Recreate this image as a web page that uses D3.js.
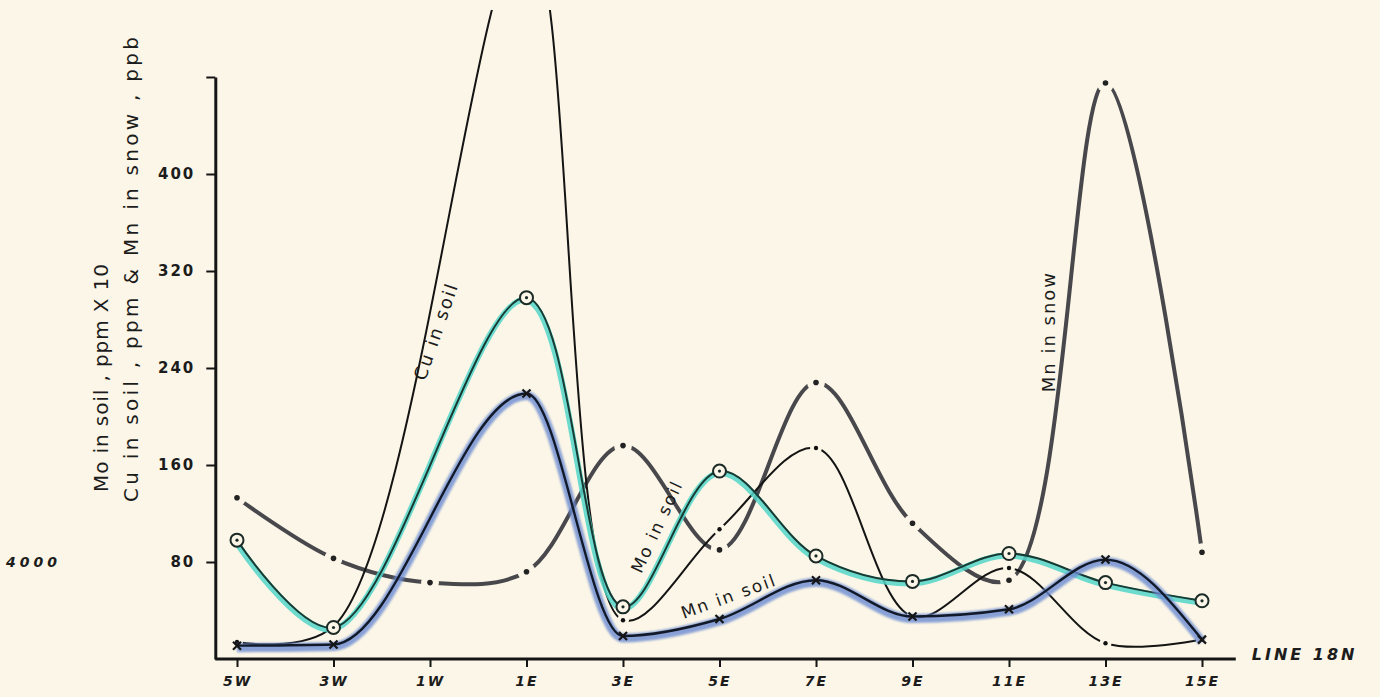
<!DOCTYPE html>
<html>
<head>
<meta charset="utf-8">
<script src="https://cdn.jsdelivr.net/npm/d3@7"></script>
<style>
  html, body { margin: 0; padding: 0; background: #fbf6e7; }
  svg { display: block; }
  text { font-family: "DejaVu Sans", sans-serif; fill: #1c1c1c; }
</style>
</head>
<body>
<svg id="chart"></svg>
<script>
// stations along LINE 18N (W negative, E positive)
const stations = [-5, -3, 1, 3, 5, 7, 9, 11, 13, 15];
const moSoil = [98, 26, 298, 43, 155, 85, 64, 87, 63, 48];   // ppm x 10
const mnSoil = [11, 12, 219, 19, 33, 65, 35, 41, 82, 16];
const cuSoil = [14, 27, 600, 32, 107, 174, 35, 75, 13, 16];  // 1E runs off the sheet
const snowStations = [-5, -3, -1, 1, 3, 5, 7, 9, 11, 13, 15];
const mnSnow = [133, 83, 63, 72, 176, 90, 228, 112, 65, 475, 88];

const xTicks = [-5, -3, -1, 1, 3, 5, 7, 9, 11, 13, 15];
const xTickLabels = ['5W', '3W', '1W', '1E', '3E', '5E', '7E', '9E', '11E', '13E', '15E'];
const yTicks = [80, 160, 240, 320, 400, 480];

const W = 1380, H = 697;
const BG = '#fbf6e7';

const svg = d3.select('#chart').attr('width', W).attr('height', H);

// scales
const x = d3.scaleLinear().domain([-5, 15]).range([237, 1202]);
const y = d3.scaleLinear().domain([0, 480]).range([659, 77]);

// clip: Cu peak leaves the top of the sheet
svg.append('defs').append('clipPath').attr('id', 'sheet')
  .append('rect').attr('x', 0).attr('y', 10).attr('width', W).attr('height', H);
svg.select('defs').append('filter').attr('id', 'crayon')
  .append('feGaussianBlur').attr('stdDeviation', 1.2);

// axes
const yAxis = svg.append('g').attr('transform', `translate(${x(-5.45)},0)`)
  .call(d3.axisLeft(y).tickValues(yTicks).tickSize(9).tickSizeOuter(0).tickPadding(11)
    .tickFormat(d => d === 480 ? '' : d));
yAxis.select('.domain').attr('stroke', '#151515').attr('stroke-width', 3);
yAxis.selectAll('.tick line').attr('stroke', '#151515').attr('stroke-width', 2);
yAxis.selectAll('.tick text').attr('font-size', 15).attr('font-weight', 'bold')
  .attr('letter-spacing', 2).attr('fill', '#1c1c1c');

const xAxis = svg.append('g').attr('transform', `translate(0,${y(0)})`)
  .call(d3.axisBottom(x).tickValues(xTicks).tickSize(8).tickSizeOuter(0).tickPadding(9)
    .tickFormat((d, i) => xTickLabels[i]));
xAxis.select('.domain').remove();
xAxis.append('line').attr('x1', x(-5.45)).attr('x2', x(15.7))
  .attr('stroke', '#151515').attr('stroke-width', 3);
xAxis.selectAll('.tick line').attr('stroke', '#151515').attr('stroke-width', 2);
xAxis.selectAll('.tick text').attr('font-size', 14).attr('font-style', 'italic')
  .attr('font-weight', 'bold').attr('letter-spacing', 2).attr('fill', '#1c1c1c');

// line generators
const line = d3.line().curve(d3.curveCatmullRom.alpha(0.5))
  .x(d => x(d[0])).y(d => y(d[1]));
const smooth = d3.line().curve(d3.curveMonotoneX)
  .x(d => x(d[0])).y(d => y(d[1]));
const pts = (xs, vs) => xs.map((s, i) => [s, vs[i]]);

const plot = svg.append('g').attr('clip-path', 'url(#sheet)');

// Mn in snow: heavy grey dash-dot
plot.append('path').attr('d', line(pts(snowStations, mnSnow)))
  .attr('fill', 'none').attr('stroke', '#48484c').attr('stroke-width', 4)
  .attr('stroke-linecap', 'round');
plot.selectAll('.snowHalo').data(pts(snowStations, mnSnow)).enter().append('circle')
  .attr('cx', d => x(d[0])).attr('cy', d => y(d[1])).attr('r', 9).attr('fill', BG);
plot.selectAll('.snowDot').data(pts(snowStations, mnSnow)).enter().append('circle')
  .attr('cx', d => x(d[0])).attr('cy', d => y(d[1])).attr('r', 2.8).attr('fill', '#222');

// Cu in soil: thin black line
plot.append('path').attr('d', line(pts(stations, cuSoil)))
  .attr('fill', 'none').attr('stroke', '#141414').attr('stroke-width', 2);
const cuPts = pts(stations, cuSoil).filter(d => d[1] < 480);
plot.selectAll('.cuHalo').data(cuPts).enter().append('circle')
  .attr('cx', d => x(d[0])).attr('cy', d => y(d[1])).attr('r', 6).attr('fill', BG);
plot.selectAll('.cuDot').data(cuPts).enter().append('circle')
  .attr('cx', d => x(d[0])).attr('cy', d => y(d[1])).attr('r', 2.2).attr('fill', '#111');

// Mo in soil: teal crayon under dark line
plot.append('path').attr('d', line(pts(stations, moSoil)))
  .attr('fill', 'none').attr('stroke', '#52d6c9').attr('stroke-width', 6)
  .attr('opacity', 0.85).attr('transform', 'translate(-1,2)');
plot.append('path').attr('d', line(pts(stations, moSoil)))
  .attr('fill', 'none').attr('stroke', '#173a33').attr('stroke-width', 2);

// Mn in soil: blue crayon under black line
plot.append('path').attr('d', smooth(pts(stations, mnSoil)))
  .attr('fill', 'none').attr('stroke', '#6c8bd2').attr('stroke-width', 9)
  .attr('opacity', 0.8).attr('filter', 'url(#crayon)').attr('transform', 'translate(0,2)');
plot.append('path').attr('d', smooth(pts(stations, mnSoil)))
  .attr('fill', 'none').attr('stroke', '#121a2a').attr('stroke-width', 2.4);

// markers
plot.selectAll('.moMark').data(pts(stations, moSoil)).enter().append('circle')
  .attr('cx', d => x(d[0])).attr('cy', d => y(d[1])).attr('r', 6.5)
  .attr('fill', BG).attr('stroke', '#1b2a27').attr('stroke-width', 2);
plot.selectAll('.moDot').data(pts(stations, moSoil)).enter().append('circle')
  .attr('cx', d => x(d[0])).attr('cy', d => y(d[1])).attr('r', 1.6).attr('fill', '#1b2a27');
plot.selectAll('.mnMark').data(pts(stations, mnSoil)).enter().append('path')
  .attr('transform', d => `translate(${x(d[0])},${y(d[1])})`)
  .attr('d', 'M-4,-4L4,4M4,-4L-4,4')
  .attr('stroke', '#151515').attr('stroke-width', 2.2).attr('fill', 'none');

// labels on the curves
const note = (txt, s, v, angle, size) => svg.append('text')
  .attr('transform', `translate(${x(s)},${y(v)}) rotate(${angle})`)
  .attr('text-anchor', 'middle').attr('dominant-baseline', 'middle')
  .attr('font-size', size).attr('letter-spacing', 2).text(txt);
note('Cu  in  soil', -0.85, 270, -71, 18);
note('Mo  in  soil', 3.72, 109, -65, 17);
note('Mn  in  soil', 5.2, 51, -20, 17);
note('Mn  in  snow', 11.85, 270, -90, 18);

// y title, two lines
svg.append('text').attr('transform', 'translate(108,492) rotate(-90)')
  .attr('font-size', 20).attr('textLength', 228).attr('lengthAdjust', 'spacing')
  .text('Mo  in  soil , ppm  X 10');
svg.append('text').attr('transform', 'translate(138,502) rotate(-90)')
  .attr('font-size', 20).attr('textLength', 465).attr('lengthAdjust', 'spacing')
  .text('Cu  in  soil , ppm  &  Mn  in  snow , ppb');

svg.append('text').attr('x', 6).attr('y', y(80) + 5)
  .attr('font-size', 14).attr('font-style', 'italic').attr('font-weight', 'bold')
  .attr('letter-spacing', 4).text('4000');

svg.append('text').attr('x', x(15.7) + 16).attr('y', y(0) - 4)
  .attr('dominant-baseline', 'middle')
  .attr('font-size', 16).attr('font-style', 'italic').attr('font-weight', 'bold')
  .attr('letter-spacing', 3).text('LINE 18N');
</script>
</body>
</html>
